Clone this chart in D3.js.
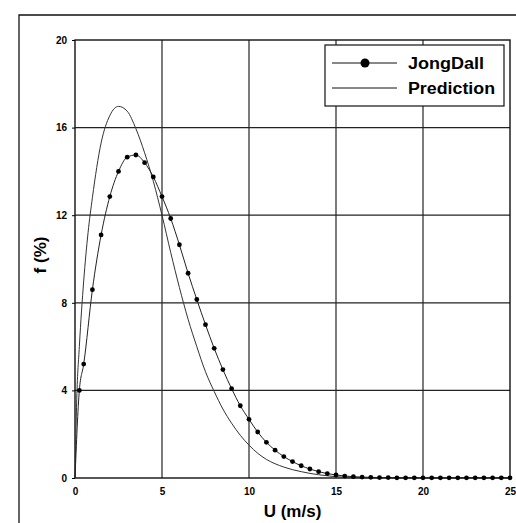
<!DOCTYPE html>
<html>
<head>
<meta charset="utf-8">
<script src="https://cdn.jsdelivr.net/npm/d3@7"></script>
<style>
  html, body { margin: 0; padding: 0; background: #fff; }
  svg { display: block; }
  text { font-family: "Liberation Sans", Arial, sans-serif; font-weight: bold; fill: #000; }
</style>
</head>
<body>
<svg id="chart" width="516" height="523"></svg>
<script>
// Wind speed (m/s) and frequency (%) for the measured JongDall distribution
const jongU = [0, 0.25, 0.5, 1, 1.5, 2, 2.5, 3, 3.5, 4, 4.5, 5, 5.5, 6, 6.5, 7, 7.5, 8, 8.5, 9, 9.5,
  10, 10.5, 11, 11.5, 12, 12.5, 13, 13.5, 14, 14.5, 15, 15.5, 16, 16.5, 17, 17.5, 18, 18.5, 19,
  19.5, 20, 20.5, 21, 21.5, 22, 22.5, 23, 23.5, 24, 24.5, 25];
const jongF = [0, 4.0, 5.2, 8.6, 11.1, 12.85, 14.0, 14.65, 14.75, 14.4, 13.75, 12.85, 11.85, 10.65,
  9.35, 8.15, 7.0, 5.92, 4.95, 4.08, 3.3, 2.68, 2.1, 1.63, 1.27, 0.98, 0.75, 0.56, 0.41, 0.29,
  0.2, 0.14, 0.09, 0.06, 0.04, 0.03, 0.02, 0.02, 0.01, 0.01, 0.01, 0.01, 0.01, 0.01, 0.01, 0.01,
  0.01, 0.01, 0.01, 0.01, 0.01, 0.01];

// Predicted distribution
const predU = [0, 0.1, 0.25, 0.5, 0.75, 1, 1.5, 2, 2.5, 3, 3.5, 4, 4.5, 5, 5.5, 6, 6.5, 7, 7.5, 8,
  8.5, 9, 9.5, 10, 10.5, 11, 11.5, 12, 12.5, 13, 13.5, 14, 14.5, 15, 16, 17, 20, 25];
const predF = [0, 3.6, 6.0, 9.0, 11.2, 12.8, 15.3, 16.55, 16.97, 16.75, 15.95, 14.85, 13.55, 12.0,
  10.3, 8.7, 7.25, 6.0, 4.85, 3.95, 3.15, 2.5, 1.95, 1.5, 1.13, 0.85, 0.65, 0.5, 0.38, 0.29, 0.21,
  0.15, 0.1, 0.06, 0.02, 0, 0, 0];

const xTicks = [0, 5, 10, 15, 20, 25];
const yTicks = [0, 4, 8, 12, 16, 20];
const seriesNames = ["JongDall", "Prediction"];

const svg = d3.select("#chart");
const plot = { left: 75, right: 510, top: 40, bottom: 478 };

const x = d3.scaleLinear().domain([0, 25]).range([plot.left, plot.right]);
const y = d3.scaleLinear().domain([0, 20]).range([plot.bottom, plot.top]);

// Outer frame
svg.append("path")
  .attr("d", `M19,523 V15 H516`)
  .attr("fill", "none").attr("stroke", "#111").attr("stroke-width", 1.3);

// Grid
const grid = svg.append("g");
grid.selectAll("line.gx").data(xTicks.slice(1, -1)).join("line")
  .attr("x1", d => x(d)).attr("x2", d => x(d))
  .attr("y1", plot.top).attr("y2", plot.bottom)
  .attr("stroke", "#444").attr("stroke-width", 1.4);
grid.selectAll("line.gy").data(yTicks.slice(1, -1)).join("line")
  .attr("x1", plot.left).attr("x2", plot.right)
  .attr("y1", d => y(d)).attr("y2", d => y(d))
  .attr("stroke", "#222").attr("stroke-width", 1.3);

// Plot border
svg.append("rect")
  .attr("x", plot.left).attr("y", plot.top)
  .attr("width", plot.right - plot.left).attr("height", plot.bottom - plot.top)
  .attr("fill", "none").attr("stroke", "#111").attr("stroke-width", 1.4);

// Axes
const yAxis = d3.axisLeft(y).tickValues(yTicks).tickSize(3).tickPadding(5);
const gy = svg.append("g").attr("transform", `translate(${plot.left},0)`).call(yAxis);
gy.select(".domain").remove();
gy.selectAll("text").attr("font-size", 10).style("font-weight", "bold");

const xAxis = d3.axisBottom(x).tickValues(xTicks).tickSize(0).tickPadding(10);
const gx = svg.append("g").attr("transform", `translate(0,${plot.bottom})`).call(xAxis);
gx.select(".domain").remove();
gx.selectAll("text").attr("font-size", 10).style("font-weight", "bold");

// Axis titles
svg.append("text")
  .attr("transform", `translate(46,255) rotate(-90)`)
  .attr("text-anchor", "middle").attr("font-size", 17).text("f (%)");
svg.append("text")
  .attr("x", (plot.left + plot.right) / 2).attr("y", 517)
  .attr("text-anchor", "middle").attr("font-size", 17).text("U (m/s)");

// Series
const jong = jongU.map((u, i) => [u, jongF[i]]);
const pred = predU.map((u, i) => [u, predF[i]]);
const line = d3.line().x(d => x(d[0])).y(d => y(d[1])).curve(d3.curveMonotoneX);

svg.append("path").datum(pred).attr("d", line)
  .attr("fill", "none").attr("stroke", "#333").attr("stroke-width", 1);
svg.append("path").datum(jong).attr("d", line)
  .attr("fill", "none").attr("stroke", "#222").attr("stroke-width", 1);
svg.append("g").selectAll("circle").data(jong.filter(d => d[0] > 0)).join("circle")
  .attr("cx", d => x(d[0])).attr("cy", d => y(d[1])).attr("r", 2.4).attr("fill", "#000");

// Legend
const lg = svg.append("g");
lg.append("rect").attr("x", 325).attr("y", 45).attr("width", 179).attr("height", 61)
  .attr("fill", "#fff").attr("stroke", "#111").attr("stroke-width", 1.2);
lg.append("line").attr("x1", 332).attr("x2", 397).attr("y1", 63).attr("y2", 63)
  .attr("stroke", "#111").attr("stroke-width", 1);
lg.append("circle").attr("cx", 365).attr("cy", 63).attr("r", 4.5).attr("fill", "#000");
lg.append("line").attr("x1", 332).attr("x2", 397).attr("y1", 88).attr("y2", 88)
  .attr("stroke", "#111").attr("stroke-width", 1);
const legendWidths = [76, 87];
lg.selectAll("text").data(seriesNames).join("text")
  .attr("x", 408).attr("y", (d, i) => 69 + i * 25)
  .attr("font-size", 16)
  .attr("textLength", (d, i) => legendWidths[i])
  .attr("lengthAdjust", "spacingAndGlyphs")
  .text(d => d);
</script>
</body>
</html>
